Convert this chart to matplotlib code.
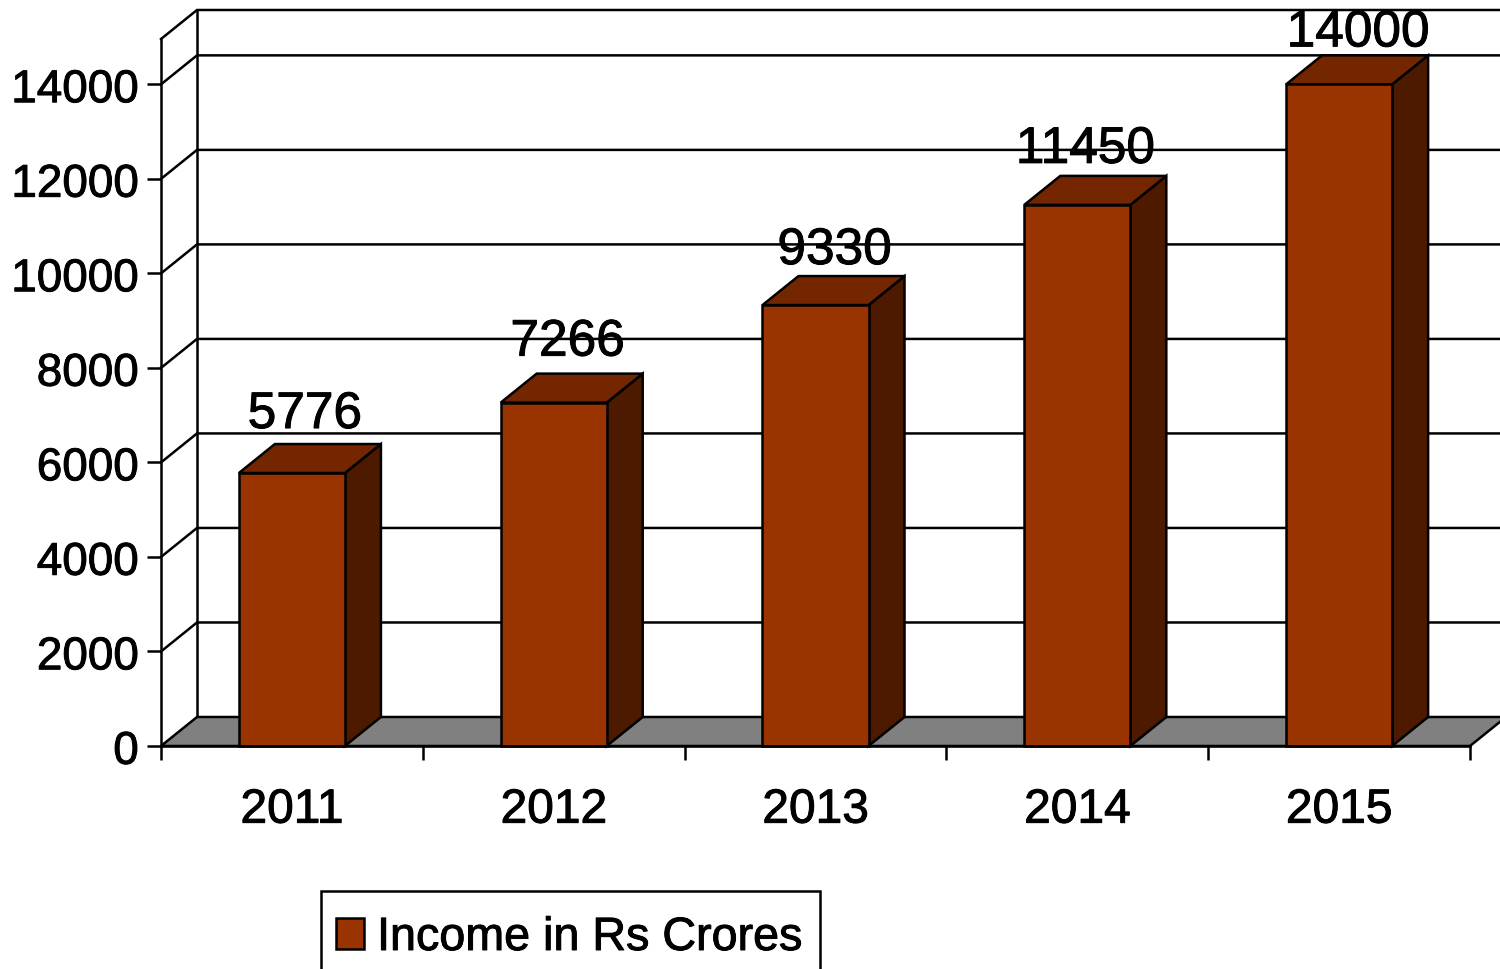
import matplotlib
matplotlib.use("Agg")
import matplotlib.pyplot as plt
import matplotlib.patheffects as pe
from matplotlib.patches import Polygon, Rectangle
from matplotlib.transforms import ScaledTranslation

matplotlib.rcParams['font.family'] = ['Liberation Sans', 'DejaVu Sans']

years = ["2011", "2012", "2013", "2014", "2015"]
income = [5776, 7266, 9330, 11450, 14000]
y_ticks = [0, 2000, 4000, 6000, 8000, 10000, 12000, 14000]
legend_label = "Income in Rs Crores"

FRONT = "#993300"
TOP = "#732600"
SIDE = "#4d1a00"
FLOOR = "#808080"
LW = 1.8
HEAVY = [pe.withStroke(linewidth=0.7, foreground="black")]

# pixel layout of the front plane
W, H = 1500, 969
LEFT, RIGHT, BASE, CEIL = 161, 1470, 746, 39
YMAX = 14960
BAR_W = 0.405
DX = 36 / ((RIGHT - LEFT) / len(years))   # depth in category units
DY = 29 / ((BASE - CEIL) / YMAX)          # depth in value units

fig = plt.figure(figsize=(W / 100, H / 100), dpi=100)
ax = fig.add_axes([LEFT / W, 1 - BASE / H, (RIGHT - LEFT) / W, (BASE - CEIL) / H])
ax.set_xlim(-0.5, len(years) - 0.5)
ax.set_ylim(0, YMAX)
ax.patch.set_visible(False)
for side in ["top", "right"]:
    ax.spines[side].set_visible(False)
for side in ["left", "bottom"]:
    ax.spines[side].set_linewidth(LW)
    ax.spines[side].set_zorder(6)

x0, x1 = ax.get_xlim()

# walls and gridlines
for v in y_ticks[1:] + [YMAX]:
    ax.plot([x0, x0 + DX, x1 + DX], [v, v + DY, v + DY], color="black",
            lw=LW, clip_on=False, zorder=1, solid_joinstyle="miter")
ax.plot([x0 + DX, x0 + DX], [DY, YMAX + DY], color="black", lw=LW,
        clip_on=False, zorder=1)

# floor
ax.add_patch(Polygon([(x0, 0), (x1, 0), (x1 + DX, DY), (x0 + DX, DY)], closed=True,
                     facecolor=FLOOR, edgecolor="black", lw=LW, clip_on=False, zorder=2))

# bars
xs = list(range(len(years)))
ax.bar(xs, income, width=BAR_W, color=FRONT, edgecolor="black", linewidth=LW,
       zorder=4, clip_on=False, label=legend_label)
for x, v in zip(xs, income):
    l, r = x - BAR_W / 2, x + BAR_W / 2
    ax.add_patch(Polygon([(r, 0), (r + DX, DY), (r + DX, v + DY), (r, v)], closed=True,
                         facecolor=SIDE, edgecolor="black", lw=LW, clip_on=False, zorder=3))
    ax.add_patch(Polygon([(l, v), (l + DX, v + DY), (r + DX, v + DY), (r, v)], closed=True,
                         facecolor=TOP, edgecolor="black", lw=LW, clip_on=False, zorder=3))

# value labels, nudged by hand in pixels from the bar's top back edge
nudge_x = [13, 14, 19, 8, 19]
nudge_y = [16, 18, 12, 13, 9]
for x, v, nx, ny in zip(xs, income, nudge_x, nudge_y):
    ax.annotate(str(v), (x, v + DY), xytext=(nx * 0.72, ny * 0.72),
                textcoords="offset points", ha="center", va="baseline",
                fontsize=37, color="black", zorder=7, annotation_clip=False,
                path_effects=HEAVY)

# axes ticks
ax.set_yticks(y_ticks)
ax.tick_params(axis="y", length=10, width=LW, pad=6, labelsize=33)
ax.set_xticks(xs)
ax.set_xticklabels(years)
ax.set_xticks([x - 0.5 for x in xs] + [x1], minor=True)
ax.tick_params(axis="x", which="major", length=0, pad=30, labelsize=34.5)
ax.tick_params(axis="x", which="minor", length=10, width=LW)
for lab in ax.get_yticklabels():
    lab.set_transform(lab.get_transform() + ScaledTranslation(0, -0.8 / 100, fig.dpi_scale_trans))
    lab.set_path_effects(HEAVY)
for lab in ax.get_xticklabels():
    lab.set_path_effects(HEAVY)

# legend box runs off the bottom of the figure
fig.add_artist(Rectangle((321 / W, 1 - 990 / H), (820 - 321) / W, (990 - 891) / H,
                         transform=fig.transFigure, facecolor="white",
                         edgecolor="black", lw=LW))
handles, labels = ax.get_legend_handles_labels()
leg = fig.legend(handles, labels, loc="center left", bbox_to_anchor=(336 / W, 1 - 938 / H),
                 frameon=False, fontsize=33.6, borderpad=0, borderaxespad=0,
                 handlelength=0.6, handleheight=0.62, handletextpad=0.28)
leg.set_zorder(10)
for t in leg.get_texts():
    t.set_path_effects(HEAVY)

plt.savefig("out.png", dpi=100)
